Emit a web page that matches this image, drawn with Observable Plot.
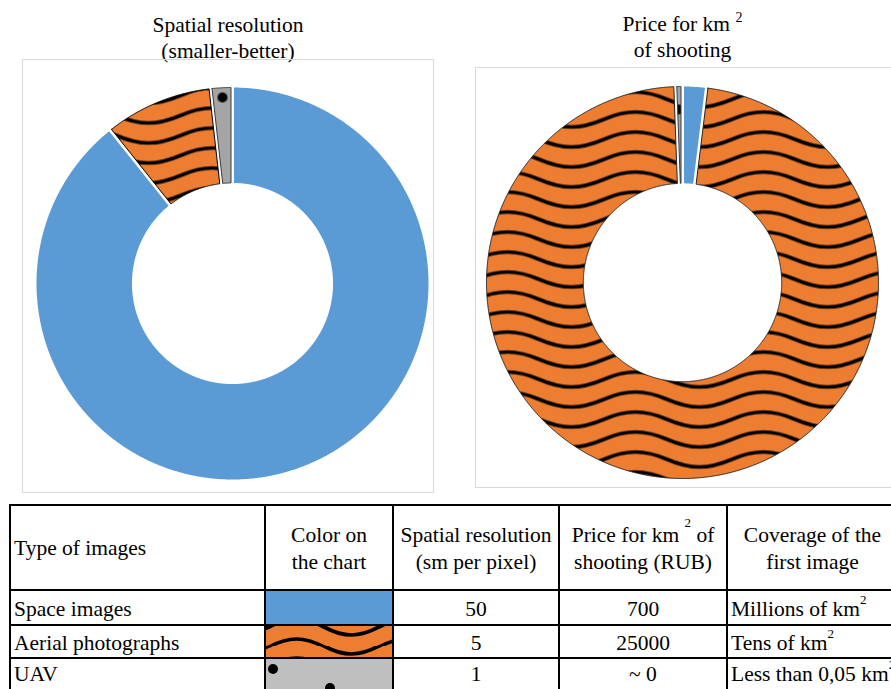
<!DOCTYPE html>
<html>
<head>
<meta charset="utf-8">
<script src="https://cdn.jsdelivr.net/npm/d3@7"></script>
<script src="https://cdn.jsdelivr.net/npm/@observablehq/plot@0.6"></script>
<style>
html, body { margin:0; padding:0; width:891px; height:689px; overflow:hidden; background:#fff;
  font-family:"Liberation Serif","Times New Roman","DejaVu Serif",serif; color:#000; }
.title { position:absolute; text-align:center; font-size:21.5px; line-height:26px; white-space:nowrap; }
.frame { position:absolute; border:1px solid #d9d9d9; box-sizing:border-box; }
.chart { position:absolute; }
.tsup { font-size:14px; position:relative; top:-9px; line-height:0; }
table { position:absolute; left:9px; top:504px; border-collapse:collapse; table-layout:fixed;
  font-size:21.5px; width:888px; }
td { border:2px solid #000; padding:0 3px; vertical-align:middle; white-space:nowrap; overflow:visible; }
td.c { text-align:center; }
td.l { text-align:left; }
thead td { line-height:26.5px; padding-top:2px; }
tbody td { padding-top:3px; }
tbody tr.last td { vertical-align:top; padding-top:3px; }
.hsup { font-size:13px; position:relative; top:-15px; line-height:0; }
.csup { font-size:13px; position:relative; top:-12px; line-height:0; }
.sw-blue { background:#5b9bd5; }
.sw-wave { background-color:#ed7d31; background-size:110px 19.5px; background-position:2.5px -8.75px; }
.sw-dots { background-color:#bfbfbf; background-size:140px 96px; background-position:1px 0px; }
</style>
</head>
<body>
<svg width="0" height="0" style="position:absolute;left:0;top:0">
  <defs id="pdefs"></defs>
</svg>

<div class="title" style="left:22px;width:412px;top:12px">Spatial resolution<br>(smaller-better)</div>
<div class="title" style="left:482px;width:401px;top:11px">Price for km <span class="tsup">2</span><br>of shooting</div>

<div class="frame" style="left:22px;top:59px;width:412px;height:434px"></div>
<div class="frame" style="left:475px;top:67px;width:420px;height:421px"></div>
<div id="left" class="chart" style="left:22px;top:59px;width:412px;height:434px"></div>
<div id="right" class="chart" style="left:475px;top:67px;width:420px;height:421px"></div>

<table id="tbl">
  <colgroup>
    <col style="width:255px"><col style="width:128px"><col style="width:166px"><col style="width:168px"><col style="width:171px">
  </colgroup>
  <thead></thead>
  <tbody></tbody>
</table>

<script>
// ---- data ----
const types = ["Space images", "Aerial photographs", "UAV"];
// Spatial resolution ring (sm per pixel)
const resolutionValues = [50, 5, 1];
// Price ring (values as drawn in the ring; UAV ~ 0)
const priceValues = [500, 25000, 150];

// table
const headers = ["Type of images", "Color on|the chart", "Spatial resolution|(sm per pixel)", "Price for km ² of|shooting (RUB)", "Coverage of the|first image"];
const swatches = ["sw-blue", "sw-wave", "sw-dots"];
const resolutionText = ["50", "5", "1"];
const priceText = ["700", "25000", "~ 0"];
const coverageText = ["Millions of km²", "Tens of km²", "Less than 0,05 km²"];

// ---- fill patterns ----
function wavePath(W, m, A) {
  const h = W / 2, k = 1.333 * A;
  let d = `M${-W},${m}`;
  for (let i = 0; i < 6; i++) {
    const x0 = -W + i * h, s = i % 2 === 0 ? -1 : 1;
    d += ` C${x0 + 0.36 * h},${m + s * k} ${x0 + 0.64 * h},${m + s * k} ${x0 + h},${m}`;
  }
  return d;
}
const chartWave = wavePath(128, 10, 7.5);
const tableWave = wavePath(110, 9.75, 7.8);
const ns = "http://www.w3.org/2000/svg";
const defs = document.getElementById("pdefs");
defs.innerHTML = `
  <pattern id="waveL" patternUnits="userSpaceOnUse" width="128" height="20" x="30" y="6">
    <rect width="128" height="20" fill="#ed7d31"/>
    <path d="${chartWave}" fill="none" stroke="#000" stroke-width="3.6"/>
  </pattern>
  <pattern id="waveR" patternUnits="userSpaceOnUse" width="128" height="20" x="0" y="2">
    <rect width="128" height="20" fill="#ed7d31"/>
    <path d="${chartWave}" fill="none" stroke="#000" stroke-width="3.6"/>
  </pattern>
  <pattern id="dotsL" patternUnits="userSpaceOnUse" width="114" height="96" x="80" y="28">
    <rect width="114" height="96" fill="#a5a5a5"/>
    <circle cx="6" cy="10" r="5" fill="#000"/><circle cx="63" cy="29" r="5" fill="#000"/>
  </pattern>
  <pattern id="dotsR" patternUnits="userSpaceOnUse" width="114" height="96" x="83" y="32">
    <rect width="114" height="96" fill="#a5a5a5"/>
    <circle cx="6" cy="10" r="5" fill="#000"/><circle cx="63" cy="29" r="5" fill="#000"/>
  </pattern>`;
const svgURI = s => `url("data:image/svg+xml,${encodeURIComponent(s)}")`;
const waveCSS = svgURI(`<svg xmlns='${ns}' width='110' height='19.5'><path d='${tableWave}' fill='none' stroke='black' stroke-width='3.6'/></svg>`);
const dotsCSS = svgURI(`<svg xmlns='${ns}' width='140' height='96'><circle cx='6' cy='10' r='5' fill='black'/><circle cx='63' cy='29' r='5' fill='black'/></svg>`);

// ---- ring geometry from data ----
function ringRows(values, inner, gap) {
  const arcs = d3.pie().sort(null).value(d => d)(values);
  const rows = [];
  arcs.forEach((a, i) => {
    const edge = (r, dir) => {
      const d = Math.asin(Math.min(1, gap / 2 / r));
      let s = a.startAngle + d, e = a.endAngle - d;
      if (e < s) { const m = (a.startAngle + a.endAngle) / 2; s = m - 0.0005; e = m + 0.0005; }
      const n = Math.max(1, Math.ceil((e - s) / 0.004));
      const ts = d3.range(n + 1).map(k => s + (e - s) * k / n);
      if (dir < 0) ts.reverse();
      return ts.map(t => ({name: types[i], x: r * Math.sin(t), y: r * Math.cos(t)}));
    };
    const poly = [...edge(1, 1), ...edge(inner, -1)];
    poly.push({...poly[0]});
    rows.push(...poly);
  });
  return rows;
}

function ring(values, inner, fills, strokes, size) {
  const rows = ringRows(values, inner, 3 / 196);
  return Plot.plot({
    width: size.width, height: size.height,
    marginLeft: size.ml, marginRight: size.mr, marginTop: size.mt, marginBottom: size.mb,
    style: "background:transparent;overflow:visible;",
    x: {domain: [-1, 1], axis: null},
    y: {domain: [-1, 1], axis: null},
    marks: types.map((t, i) => Plot.line(rows.filter(d => d.name === t), {
      x: "x", y: "y", fill: fills[i], stroke: strokes[i], strokeWidth: 1, curve: "linear", strokeLinejoin: "miter"
    }))
  });
}

document.getElementById("left").append(
  ring(resolutionValues, 0.513, ["#5b9bd5", "url(#waveL)", "url(#dotsL)"], ["none", "#000", "#3a3a3a"],
       {width: 412, height: 434, ml: 14, mr: 6, mt: 28, mb: 14})
);
document.getElementById("right").append(
  ring(priceValues, 0.506, ["#5b9bd5", "url(#waveR)", "url(#dotsR)"], ["none", "#222", "#3a3a3a"],
       {width: 420, height: 421, ml: 11, mr: 17, mt: 19, mb: 10})
);

// ---- table ----
const sup = (s, cls) => s.replace("²", `<span class="${cls}">2</span>`);
const thead = document.querySelector("#tbl thead");
const htr = document.createElement("tr");
htr.style.height = "85px";
headers.forEach((h, i) => {
  const td = document.createElement("td");
  td.className = i === 0 ? "l" : "c";
  td.innerHTML = sup(h, "hsup").split("|").join("<br>");
  htr.append(td);
});
thead.append(htr);

const tbody = document.querySelector("#tbl tbody");
const rowHeights = [35, 33, 40];
types.forEach((t, i) => {
  const tr = document.createElement("tr");
  tr.style.height = rowHeights[i] + "px";
  if (i === types.length - 1) tr.className = "last";
  const cells = [
    ["l", t, ""],
    ["c", "", swatches[i]],
    ["c", resolutionText[i], ""],
    ["c", priceText[i], ""],
    ["l", sup(coverageText[i], "csup"), ""]
  ];
  cells.forEach(([al, html, cls]) => {
    const td = document.createElement("td");
    td.className = al + (cls ? " " + cls : "");
    td.innerHTML = html;
    if (cls === "sw-wave") td.style.backgroundImage = waveCSS;
    if (cls === "sw-dots") td.style.backgroundImage = dotsCSS;
    tr.append(td);
  });
  tbody.append(tr);
});
</script>
</body>
</html>
